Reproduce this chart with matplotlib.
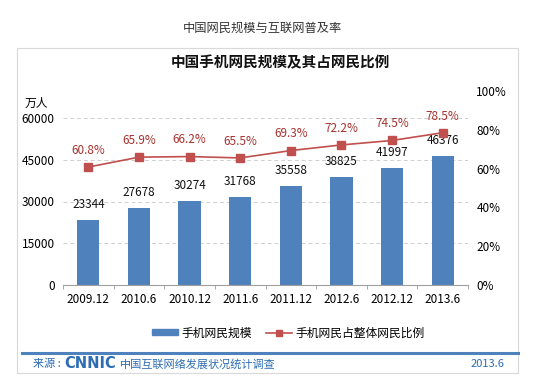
import matplotlib.pyplot as plt
from matplotlib.patches import Rectangle
from matplotlib.lines import Line2D

plt.rcParams["font.family"] = ["Noto Sans CJK SC", "DejaVu Sans"]

periods = ["2009.12", "2010.6", "2010.12", "2011.6", "2011.12", "2012.6", "2012.12", "2013.6"]
mobile_users = [23344, 27678, 30274, 31768, 35558, 38825, 41997, 46376]
mobile_share = [60.8, 65.9, 66.2, 65.5, 69.3, 72.2, 74.5, 78.5]
left_ticks = [0, 15000, 30000, 45000, 60000]
right_ticks = [0, 20, 40, 60, 80, 100]

bar_color = "#4F81BD"
line_color = "#C0504D"
label_red = "#A8322F"
src_blue = "#2E6DB4"

fig = plt.figure(figsize=(5.33, 3.81), dpi=100)
W, H = 533, 381


def fx(px):
    return px / W


def fy(py):
    return 1 - py / H


# outer frame + blue rule above the source line
fig.patches.append(Rectangle((fx(17), fy(373)), fx(518) - fx(17), fy(48) - fy(373),
                             transform=fig.transFigure, fill=False,
                             edgecolor="#D9D9D9", linewidth=0.8))
fig.add_artist(Line2D([fx(22), fx(518)], [fy(353), fy(353)], color="#4F81BD", linewidth=2.2))

fig.text(fx(262), fy(28), "中国网民规模与互联网普及率", ha="center", va="center",
         fontsize=8.8, color="#333333")
fig.text(fx(280), fy(62), "中国手机网民规模及其占网民比例", ha="center", va="center",
         fontsize=10.5, fontweight="bold", color="#111111")
fig.text(fx(36), fy(103), "万人", ha="center", va="center", fontsize=8.5)

ax = fig.add_axes([fx(63), fy(285), fx(468) - fx(63), fy(91) - fy(285)])
x = list(range(len(periods)))
ax.bar(x, mobile_users, width=0.44, color=bar_color, zorder=2)
ax.set_xlim(-0.5, len(periods) - 0.5)
ax.set_ylim(0, 60000 * 194 / 167)
ax.set_yticks(left_ticks)
ax.set_yticklabels([str(v) for v in left_ticks], fontsize=8.5)
for v in left_ticks[1:]:
    ax.axhline(v, color="#CFCFCF", linestyle=(0, (4, 3)), linewidth=0.7, zorder=1)
for xi, v in zip(x, mobile_users):
    ax.annotate(str(v), (xi, v), xytext=(0, 11), textcoords="offset points",
                ha="center", va="center", fontsize=8.5, color="#111111")
ax.set_xticks(x)
ax.set_xticklabels(periods, fontsize=8.5)
ax.tick_params(axis="x", length=0, pad=6)
ax.tick_params(axis="y", length=0, pad=6)
ax.set_xticks([i - 0.5 for i in range(len(periods) + 1)], minor=True)
ax.tick_params(axis="x", which="minor", length=3, color="#999999", direction="out")
for s in ["top", "left", "right"]:
    ax.spines[s].set_visible(False)
ax.spines["bottom"].set_color("#A0A0A0")

ax2 = ax.twinx()
ax2.plot(x, mobile_share, color=line_color, linewidth=1.2, marker="s", markersize=5.5, zorder=3)
ax2.set_ylim(0, 100)
ax2.set_yticks(right_ticks)
ax2.set_yticklabels([f"{v}%" for v in right_ticks], fontsize=8.5)
ax2.tick_params(axis="y", length=0, pad=6)
for s in ["top", "left", "right", "bottom"]:
    ax2.spines[s].set_visible(False)
for xi, v in zip(x, mobile_share):
    ax2.annotate(f"{v}%", (xi, v), xytext=(0, 12), textcoords="offset points",
                 ha="center", va="center", fontsize=8.5, color=label_red)

handles = [Rectangle((0, 0), 1, 1, color=bar_color),
           Line2D([], [], color=line_color, marker="s", markersize=5, linewidth=1.2)]
fig.legend(handles, ["手机网民规模", "手机网民占整体网民比例"], loc="center",
           bbox_to_anchor=(fx(288), fy(333)), ncol=2, frameon=False, fontsize=8.5,
           handlelength=2.2, handleheight=0.45, columnspacing=1.2, handletextpad=0.3)

fig.text(fx(33), fy(364), "来源 :", ha="left", va="center", fontsize=8, color=src_blue)
fig.text(fx(64), fy(364), "CNNIC", ha="left", va="center", fontsize=10.5,
         fontweight="black", color=src_blue, family="DejaVu Sans")
fig.text(fx(120), fy(364), "中国互联网络发展状况统计调查", ha="left", va="center",
         fontsize=8, color=src_blue)
fig.text(fx(505), fy(364), "2013.6", ha="right", va="center", fontsize=8, color=src_blue)

fig.savefig("out.png", dpi=100)
